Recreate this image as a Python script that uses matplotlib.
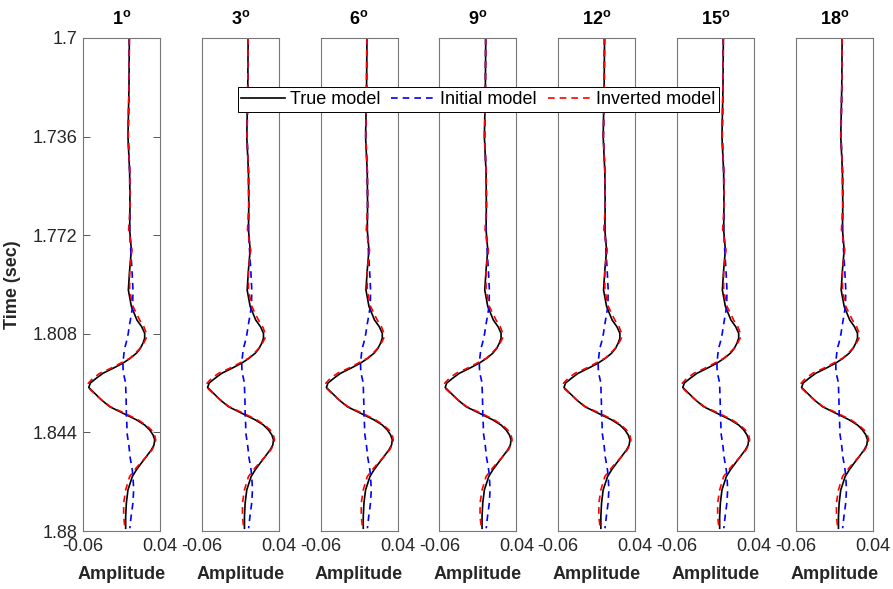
import matplotlib
matplotlib.use('Agg')
import matplotlib.pyplot as plt
import numpy as np

plt.rcParams['font.family'] = ['Liberation Sans', 'DejaVu Sans']
plt.rcParams['mathtext.fontset'] = 'custom'
plt.rcParams['mathtext.rm'] = 'Liberation Sans'
plt.rcParams['mathtext.bf'] = 'Liberation Sans:bold'

# panel titles (incidence angle)
angles = ['1', '3', '6', '9', '12', '15', '18']

# time samples (sec)
time = [1.700, 1.718, 1.736, 1.749, 1.761, 1.770, 1.7774, 1.7847, 1.792, 1.798,
        1.803, 1.8054, 1.8078, 1.8096, 1.8114, 1.8133, 1.8151, 1.8169, 1.8187, 1.8206,
        1.8224, 1.8242, 1.8260, 1.8276, 1.8297, 1.8321, 1.8346, 1.8370, 1.8394, 1.8413,
        1.8431, 1.8449, 1.8467, 1.8486, 1.8504, 1.8528, 1.8552, 1.8577, 1.8601, 1.8650,
        1.8698, 1.8747, 1.879]

true_model = [0.0002, -0.0003, -0.0016, 0.0006, 0.0010, 0.0006, 0.0028, 0.0006, -0.0011, 0.0028,
              0.0101, 0.0162, 0.0201, 0.0201, 0.0179, 0.0145, 0.0093, 0.0015, -0.0081, -0.0210,
              -0.0340, -0.0427, -0.0505, -0.0525, -0.0449, -0.0362, -0.0254, -0.0081, 0.0093, 0.0201,
              0.0266, 0.0309, 0.0331, 0.0322, 0.0287, 0.0223, 0.0158, 0.0093, 0.0041, -0.0016,
              -0.0037, -0.0046, -0.0046]

initial_model = [0.0000, -0.0003, -0.0012, 0.0006, 0.0010, 0.0006, 0.0020, 0.0036, 0.0049, 0.0045,
                 0.0015, 0.0000, -0.0012, -0.0025, -0.0040, -0.0060, -0.0068, -0.0075, -0.0081, -0.0080,
                 -0.0075, -0.0060, -0.0046, -0.0045, -0.0043, -0.0040, -0.0038, -0.0037, -0.0033, -0.0030,
                 -0.0029, -0.0025, -0.0015, -0.0005, 0.0002, 0.0010, 0.0025, 0.0040, 0.0049, 0.0058,
                 0.0048, 0.0025, 0.0008]

inverted_model = [0.0002, -0.0002, -0.0014, 0.0008, 0.0012, -0.0007, 0.0036, 0.0006, 0.0006, 0.0049,
                  0.0136, 0.0190, 0.0223, 0.0220, 0.0188, 0.0140, 0.0080, 0.0010, -0.0110, -0.0240,
                  -0.0380, -0.0470, -0.0530, -0.0535, -0.0457, -0.0360, -0.0245, -0.0059, 0.0114, 0.0215,
                  0.0288, 0.0330, 0.0344, 0.0330, 0.0296, 0.0225, 0.0145, 0.0070, 0.0006, -0.0046,
                  -0.0072, -0.0072, -0.0055]

yticks = [1.7, 1.736, 1.772, 1.808, 1.844, 1.88]
ytick_labels = ['1.7', '1.736', '1.772', '1.808', '1.844', '1.88']

W, H = 893, 589
fig = plt.figure(figsize=(W / 100, H / 100), dpi=100)

left0 = 83
step = 118.8
pw = 77
top = 38
bottom = 531
txt_col = '#262626'

for i, ang in enumerate(angles):
    ax = fig.add_axes([(left0 + i * step) / W, (H - bottom) / H, pw / W, (bottom - top) / H])
    l1, = ax.plot(true_model, time, color='black', lw=1.2)
    l2, = ax.plot(initial_model, time, color='blue', lw=1.2, dashes=(4, 3))
    l3, = ax.plot(inverted_model, time, color='red', lw=1.2, dashes=(4, 3))
    ax.set_xlim(-0.06, 0.04)
    ax.set_ylim(1.88, 1.7)
    ax.set_xticks([-0.06, 0.04])
    ax.set_xticklabels(['-0.06', '0.04'])
    if i == 0:
        ax.set_yticks(yticks)
        ax.set_yticklabels(ytick_labels)
        ax.set_ylabel('Time (sec)', fontsize=13, fontweight='bold', color=txt_col, labelpad=8)
    else:
        ax.set_yticks([])
    ax.tick_params(direction='in', length=5, width=0.7, colors='#555555',
                   labelcolor=txt_col, labelsize=13, right=True, pad=4)
    ax.tick_params(axis='x', length=0, pad=5)
    for sp in ax.spines.values():
        sp.set_color('#777777')
        sp.set_linewidth(0.8)
    ax.set_xlabel('Amplitude', fontsize=13, fontweight='bold', color=txt_col, labelpad=8)
    ax.set_title(ang + r'$^{\mathbf{o}}$', fontsize=13, fontweight='bold', pad=10)

leg = fig.legend([l1, l2, l3], ['True model', 'Initial model', 'Inverted model'],
                 ncol=3, loc='center', bbox_to_anchor=(478.5 / W, 1 - 99.5 / H),
                 fontsize=13, frameon=True, fancybox=False, framealpha=1,
                 edgecolor='black', handlelength=2.4, handletextpad=0.3,
                 columnspacing=0.6, borderpad=0.2, borderaxespad=0)
leg.get_frame().set_linewidth(0.7)
for txt in leg.get_texts():
    txt.set_color('black')

fig.savefig('out.png', dpi=100)
